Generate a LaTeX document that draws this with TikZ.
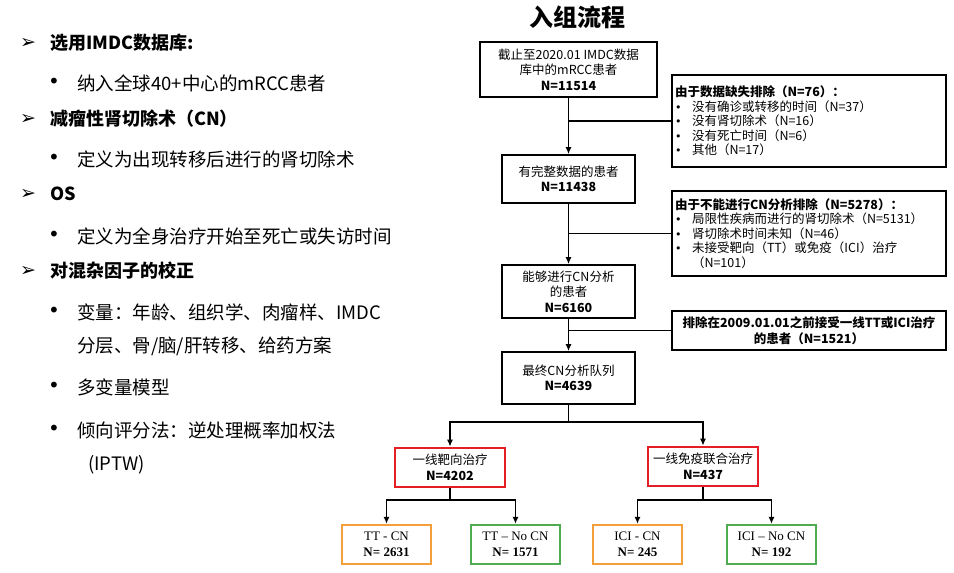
\documentclass[tikz,border=0pt]{standalone}
\usepackage{fontspec}
\setmainfont{Noto Sans CJK SC}
\newfontfamily\timesfont{Liberation Serif}
\newfontfamily\symfont{DejaVu Sans}
\usetikzlibrary{arrows.meta}
\definecolor{boxred}{RGB}{228,30,36}
\definecolor{boxorange}{RGB}{244,158,60}
\definecolor{boxgreen}{RGB}{80,172,80}
\newcommand{\bul}{\makebox[17pt][l]{\symfont\fontsize{11}{11}\selectfont •}}
\begin{document}
\begin{tikzpicture}[x=1pt,y=-1pt,
  box/.style={draw,line width=1.7pt,inner sep=0pt,align=center,font=\fontsize{12.5}{15.5}\selectfont},
  exbox/.style={draw,line width=1.7pt,inner xsep=3pt,inner ysep=0pt,align=left,text width=268pt,font=\fontsize{12.5}{14.5}\selectfont},
  grp/.style={box,draw=boxred,line width=2.6pt,minimum width=110pt,minimum height=39pt},
  sub/.style={box,line width=2.2pt,minimum width=89pt,minimum height=39pt,font=\fontsize{13}{16}\timesfont},
  item/.style={anchor=west,inner sep=0pt,font=\fontsize{18.5}{20}\selectfont},
  head/.style={item,font=\fontsize{18}{20}\selectfont\bfseries},
  tri/.style={inner sep=0pt,font=\fontsize{19}{20}\symfont},
  dot/.style={inner sep=0pt,font=\fontsize{20}{20}\symfont}]

\useasboundingbox (0,0) rectangle (954,573);

\node[font=\fontsize{24}{28}\selectfont\bfseries] (title) at (577,17) {入组流程};

\node[tri] (m1) at (28,43) {➢};
\node[head] (h1) at (50,43) {选用IMDC数据库:};
\node[dot] (d1) at (54,83) {•};
\node[item] (l1) at (77,83) {纳入全球40+中心的mRCC患者};
\node[tri] (m2) at (28,119) {➢};
\node[head] (h2) at (50,119) {减瘤性肾切除术（CN）};
\node[dot] (d2) at (54,159) {•};
\node[item] (l2) at (77,159) {定义为出现转移后进行的肾切除术};
\node[tri] (m3) at (28,194) {➢};
\node[head] (h3) at (50,194) {OS};
\node[dot] (d3) at (54,236) {•};
\node[item] (l3) at (77,236) {定义为全身治疗开始至死亡或失访时间};
\node[tri] (m4) at (28,271) {➢};
\node[head] (h4) at (50,271) {对混杂因子的校正};
\node[dot] (d4) at (54,312) {•};
\node[item] (l4) at (77,312) {变量：年龄、组织学、肉瘤样、IMDC};
\node[item] (l5) at (77,346) {分层、骨/脑/肝转移、给药方案};
\node[dot] (d5) at (54,387) {•};
\node[item] (l6) at (77,387) {多变量模型};
\node[dot] (d6) at (54,430) {•};
\node[item] (l7) at (77,430) {倾向评分法：逆处理概率加权法};
\node[item] (l8) at (88,465) {(IPTW)};

\node[box,minimum width=177pt,minimum height=55pt] (a1) at (568.5,69.5) {截止至2020.01 IMDC数据\\库中的mRCC患者\\\textbf{N=11514}};
\node[box,minimum width=133pt,minimum height=48pt] (a2) at (568.5,179) {有完整数据的患者\\\textbf{N=11438}};
\node[box,minimum width=133pt,minimum height=53pt] (a3) at (568.5,291.5) {能够进行CN分析\\的患者\\\textbf{N=6160}};
\node[box,minimum width=133pt,minimum height=52pt] (a4) at (568.5,378) {最终CN分析队列\\\textbf{N=4639}};

\node[exbox,minimum height=92pt] (e1) at (809,121) {\textbf{由于数据缺失排除（N=76）：}\\
\bul 没有确诊或转移的时间（N=37）\\
\bul 没有肾切除术（N=16）\\
\bul 没有死亡时间（N=6）\\
\bul 其他（N=17）};
\node[exbox,minimum height=85pt] (e2) at (809,233.5) {\textbf{由于不能进行CN分析排除（N=5278）：}\\
\bul 局限性疾病而进行的肾切除术（N=5131）\\
\bul 肾切除术时间未知（N=46）\\
\bul 未接受靶向（TT）或免疫（ICI）治疗\\
\hspace*{17pt}（N=101）};
\node[exbox,align=center,minimum height=39pt,font=\fontsize{12.5}{15.5}\selectfont\bfseries] (e3) at (809,330.5) {排除在2009.01.01之前接受一线TT或ICI治疗\\的患者（N=1521）};

\node[grp] (g1) at (450,467.5) {一线靶向治疗\\\textbf{N=4202}};
\node[grp] (g2) at (703,466.5) {一线免疫联合治疗\\\textbf{N=437}};

\node[sub,draw=boxorange] (c1) at (386.5,544.5) {TT - CN\\\textbf{N= 2631}};
\node[sub,draw=boxgreen] (c2) at (515.5,544.5) {TT – No CN\\\textbf{N= 1571}};
\node[sub,draw=boxorange] (c3) at (637.5,544.5) {ICI - CN\\\textbf{N= 245}};
\node[sub,draw=boxgreen] (c4) at (771.5,544.5) {ICI – No CN\\\textbf{N= 192}};

\coordinate (s1) at (568.5,422);
\coordinate (s2) at (450,500);
\coordinate (s3) at (703,500);

\begin{scope}[line width=1.7pt]
\draw (e1.west) -- (e1.west -| a1.south);
\draw (e2.west) -- (e2.west -| a2.south);
\draw (e3.west) -- (e3.west -| a3.south);
\draw (a4.south) -- (s1);
\draw (g1.south) -- (s2);
\draw (g2.south) -- (s3);
\end{scope}

\begin{scope}[line width=1.7pt,-{Latex[length=7pt,width=6pt]}]
\draw (a1.south) -- (a2.north);
\draw (a2.south) -- (a3.north);
\draw (a3.south) -- (a4.north);
\draw (s1) -| (g1.north);
\draw (s1) -| (g2.north);
\draw (s2) -| (c1.north);
\draw (s2) -| (c2.north);
\draw (s3) -| (c3.north);
\draw (s3) -| (c4.north);
\end{scope}
\end{tikzpicture}
\end{document}
